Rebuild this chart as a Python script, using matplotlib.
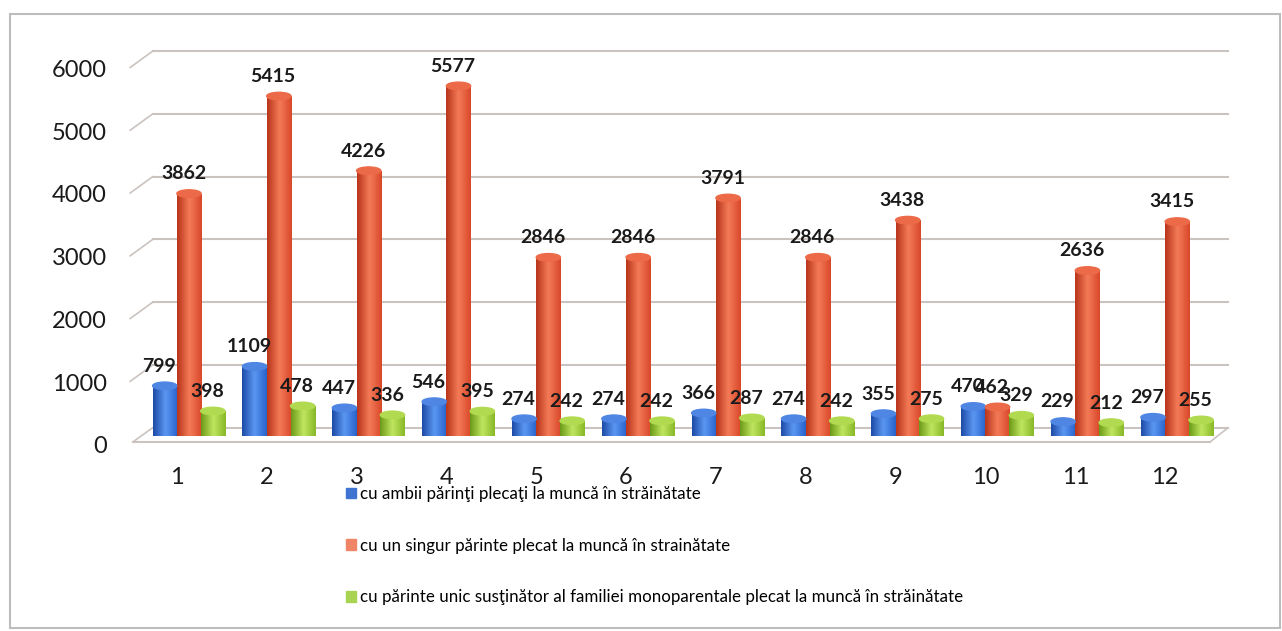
import numpy as np
import matplotlib
matplotlib.use('Agg')
import matplotlib.pyplot as plt
import matplotlib.transforms as mtransforms
from matplotlib.colors import LinearSegmentedColormap
from matplotlib.patches import Rectangle, Ellipse

plt.rcParams['font.family'] = ['Lato', 'DejaVu Sans']

# date
categorii = [str(i) for i in range(1, 13)]
ambii_parinti = [799, 1109, 447, 546, 274, 274, 366, 274, 355, 470, 229, 297]
un_parinte = [3862, 5415, 4226, 5577, 2846, 2846, 3791, 2846, 3438, 462, 2636, 3415]
parinte_unic = [398, 478, 336, 395, 242, 242, 287, 242, 275, 329, 212, 255]
etichete_serii = [
    'cu ambii părinţi plecaţi la muncă în străinătate',
    'cu un singur părinte plecat la muncă în strainătate',
    'cu părinte unic susţinător al familiei monoparentale plecat la muncă în străinătate',
]
y_ticks = [0, 1000, 2000, 3000, 4000, 5000, 6000]

# culori (umbrire cilindru: margine - centru - margine)
culori = [
    ['#1c4aa6', '#5b97f2', '#2863cc'],
    ['#b8341a', '#f47b58', '#d8482a'],
    ['#6c9a18', '#c0e660', '#88b828'],
]
culori_capac = ['#4f86e4', '#ec6a48', '#b2da50']
culori_legenda = ['#3f74d2', '#f08466', '#a9d452']

fig = plt.figure(figsize=(12.82, 6.31), dpi=100)
ax = fig.add_axes([0.0889, 0.2842, 0.883, 0.6715])

x = np.arange(1, len(categorii) + 1)
latime = 0.27
decalaje = [-0.135, 0.135, 0.40]
spate = 130    # peretele din spate, putin deasupra bazei
fata = -130    # marginea din fata a peretelui lateral
podea = -95    # marginea din fata a podelei

# perete / podea
grid_col = '#cbc3bf'
for v in y_ticks:
    if v == 0:
        ax.plot([0.51, 12.50], [podea, podea], color=grid_col, lw=1.5, zorder=1)
        ax.plot([0.51, 0.73], [podea, spate], color=grid_col, lw=1.2, zorder=1)
        ax.plot([12.50, 12.70], [podea, spate], color=grid_col, lw=1.2, zorder=1)
    else:
        ax.plot([0.48, 0.73], [v + fata, v + spate], color=grid_col, lw=1.2, zorder=1)
    ax.plot([0.73, 12.70], [v + spate, v + spate], color=grid_col, lw=1.5, zorder=1)

grad = np.linspace(0, 1, 64).reshape(1, -1)
serii = [ambii_parinti, un_parinte, parinte_unic]
handles = []
for i, (vals, dec) in enumerate(zip(serii, decalaje)):
    cmap = LinearSegmentedColormap.from_list('c%d' % i, culori[i])
    bare = ax.bar(x + dec, vals, width=latime, color='none', edgecolor='none', zorder=3)
    for b in bare:
        x0, w, h = b.get_x(), b.get_width(), b.get_height()
        im = ax.imshow(grad, extent=[x0, x0 + w, 0, h], aspect='auto', cmap=cmap,
                       zorder=3, interpolation='bicubic')
        im.set_clip_path(b)
        ax.add_patch(Ellipse((x0 + w / 2, h), w, 120, color=culori_capac[i], zorder=4))
    for xi, v in zip(x + dec, vals):
        ax.annotate(str(v), (xi, v), xytext=(-4, 8), textcoords='offset points',
                    ha='center', va='bottom', fontsize=14, fontweight='bold',
                    color='#1a1a1a', zorder=5)
    handles.append(Rectangle((0, 0), 1, 1, color=culori_legenda[i]))

ax.set_xlim(0.3, 12.9)
ax.set_ylim(-250, 6500)
ax.set_xticks(x)
ax.set_xticklabels(categorii, fontsize=17, color='#1a1a1a')
ax.set_yticks(y_ticks)
ax.set_yticklabels([str(v) for v in y_ticks], fontsize=17, color='#1a1a1a')
ax.tick_params(axis='both', length=0)
ax.tick_params(axis='x', pad=11)
ax.tick_params(axis='y', pad=5)
jos = mtransforms.ScaledTranslation(0, -9 / 100, fig.dpi_scale_trans)
for lab in ax.get_yticklabels():
    lab.set_transform(lab.get_transform() + jos)
for s in ax.spines.values():
    s.set_visible(False)

fig.legend(handles, etichete_serii, loc='upper left',
           bbox_to_anchor=(346 / 1282, 1 - 486 / 631), frameon=False,
           fontsize=12.2, handlelength=0.6, handleheight=0.6, handletextpad=0.25,
           labelspacing=2.1, borderaxespad=0, borderpad=0)

# chenar in jurul graficului
fig.patches.append(Rectangle((10 / 1282, 3 / 631), 1270 / 1282, 614 / 631,
                             transform=fig.transFigure, fill=False,
                             edgecolor='#bdbdbd', lw=1.5))

fig.savefig('out.png', dpi=100)
plt.close()
